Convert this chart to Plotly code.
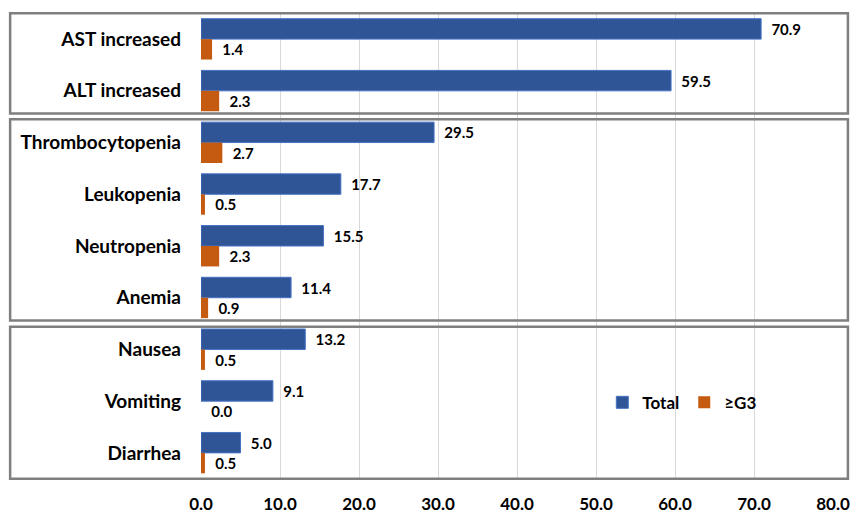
import plotly.graph_objects as go

categories = ["AST increased", "ALT increased", "Thrombocytopenia", "Leukopenia",
              "Neutropenia", "Anemia", "Nausea", "Vomiting", "Diarrhea"]
total = [70.9, 59.5, 29.5, 17.7, 15.5, 11.4, 13.2, 9.1, 5.0]
g3 = [1.4, 2.3, 2.7, 0.5, 2.3, 0.9, 0.5, 0.0, 0.5]
x_ticks = [0, 10, 20, 30, 40, 50, 60, 70, 80]
x_tick_labels = ["0.0", "10.0", "20.0", "30.0", "40.0", "50.0", "60.0", "70.0", "80.0"]

FONT = "Lato"
BLUE = "#2F5597"
ORANGE = "#C55A11"
PAD = "\u00a0\u00a0"

fig = go.Figure()
fig.add_trace(go.Bar(
    y=categories, x=total, orientation="h", name="Total",
    marker=dict(color=BLUE, line=dict(color="#4472C4", width=1)),
    text=[PAD + f"{v:.1f}" for v in total], textposition="outside", cliponaxis=False,
    textfont=dict(family=FONT, size=15, color="#000000", weight="bold"),
))
fig.add_trace(go.Bar(
    y=categories, x=g3, orientation="h", name="≥G3",
    marker=dict(color=ORANGE, line=dict(width=0)),
    text=[PAD + f"{v:.1f}" for v in g3], textposition="outside", cliponaxis=False,
    textfont=dict(family=FONT, size=15, color="#000000", weight="bold"),
))

# group boxes (in category units vertically, paper units horizontally)
boxes = [(-0.5, 1.44), (1.55, 5.44), (5.56, 8.5)]
for y0, y1 in boxes:
    fig.add_shape(type="rect", xref="paper", yref="y",
                  x0=-0.302, x1=1.0236, y0=y0, y1=y1,
                  line=dict(color="#7F7F7F", width=2.5), fillcolor="rgba(0,0,0,0)",
                  layer="above")

fig.update_layout(
    width=862, height=526,
    margin=dict(l=201, r=25, t=12, b=45),
    barmode="group", bargap=0.21, bargroupgap=0,
    plot_bgcolor="white", paper_bgcolor="white",
    font=dict(family=FONT, size=14, color="#000000"),
    legend=dict(orientation="h", x=0.635, y=0.165, xanchor="left", yanchor="middle",
                bgcolor="rgba(0,0,0,0)",
                font=dict(family=FONT, size=17, color="#000000", weight="bold"),
                itemwidth=30, traceorder="normal"),
    showlegend=True,
)
fig.update_xaxes(range=[0, 80], tickvals=x_ticks, ticktext=x_tick_labels,
                 showgrid=True, gridcolor="#D9D9D9", gridwidth=1,
                 zeroline=False, showline=False, ticks="",
                 tickfont=dict(family=FONT, size=17, color="#000000", weight="bold"),
                 ticklabelstandoff=12)
fig.update_yaxes(autorange="reversed", showgrid=False, showline=False, ticks="",
                 tickfont=dict(family=FONT, size=19, color="#000000", weight="bold"),
                 ticklabelstandoff=19)

fig.write_html("out.html", config={"displayModeBar": False},
               post_script="document.body.style.margin='0';")
